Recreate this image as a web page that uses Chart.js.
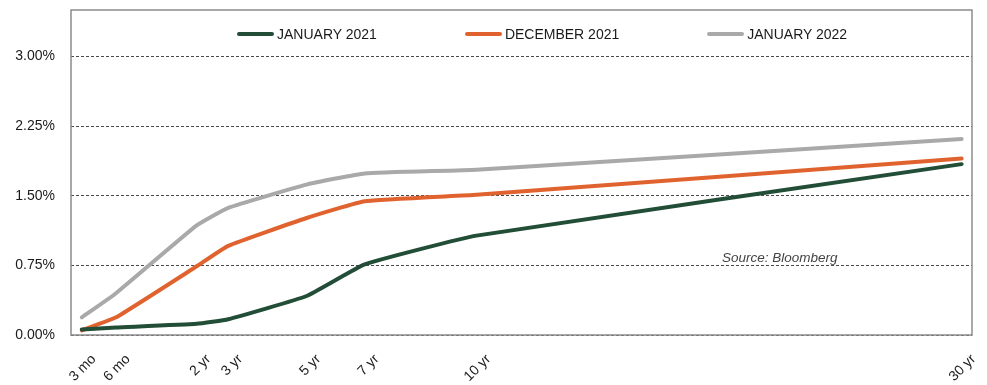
<!DOCTYPE html>
<html>
<head>
<meta charset="utf-8">
<script src="https://cdn.jsdelivr.net/npm/chart.js@4.4.0/dist/chart.umd.min.js"></script>
<style>
  html, body { margin: 0; padding: 0; background: #fff; }
  #wrap { position: relative; width: 987px; height: 385px; }
  #legend {
    position: absolute; top: 26px; left: 237px;
    display: flex; gap: 88px;
    font: 14px "Liberation Sans", Arial, sans-serif; color: #1a1a1a;
  }
  #legend .item { display: flex; align-items: center; gap: 3px; white-space: nowrap; }
  #legend .swatch { width: 37px; height: 4px; border-radius: 2px; }
</style>
</head>
<body>
<div id="wrap">
  <canvas id="curve" width="987" height="385"></canvas>
  <div id="legend"></div>
</div>
<script>
// maturities shown on the x axis
const tenorLabels = ['3 mo', '6 mo', '2 yr', '3 yr', '5 yr', '7 yr', '10 yr', '30 yr'];
// where each maturity sits along the (not-to-scale) maturity axis, 0-100
const tenorAxisPos = [1.2, 5.0, 13.95, 17.45, 26.15, 32.6, 45.0, 98.85];

// treasury yields, %
const jan2021 = [0.06, 0.08, 0.12, 0.17, 0.42, 0.76, 1.07, 1.84];
const dec2021 = [0.05, 0.19, 0.74, 0.96, 1.26, 1.44, 1.51, 1.90];
const jan2022 = [0.19, 0.45, 1.18, 1.37, 1.62, 1.74, 1.78, 2.11];

const seriesNames = ['JANUARY 2021', 'DECEMBER 2021', 'JANUARY 2022'];
const yTicks = [0, 0.75, 1.5, 2.25, 3.0];

const colors = ['#224d37', '#e0632f', '#a9a9a9'];
const FONT = '"Liberation Sans", Arial, sans-serif';

function toPoints(vals) {
  return vals.map((v, i) => ({ x: tenorAxisPos[i], y: v }));
}

// outer frame + source note
const framePlugin = {
  id: 'frame',
  afterDraw(chart) {
    const { ctx, chartArea: a, scales } = chart;
    ctx.save();
    ctx.strokeStyle = '#8c8c8c';
    ctx.lineWidth = 1.5;
    ctx.strokeRect(a.left, a.top, a.right - a.left, a.bottom - a.top);
    ctx.font = 'italic 13.5px ' + FONT;
    ctx.fillStyle = '#444';
    ctx.textBaseline = 'alphabetic';
    ctx.fillText('Source: Bloomberg', a.right - 250, scales.y.getPixelForValue(0.75) - 3);
    ctx.restore();
  }
};

const chart = new Chart(document.getElementById('curve'), {
  type: 'line',
  data: {
    datasets: [jan2021, dec2021, jan2022].map((vals, i) => ({
      label: seriesNames[i],
      data: toPoints(vals),
      borderColor: colors[i],
      backgroundColor: colors[i],
      borderWidth: 4,
      borderCapStyle: 'round',
      borderJoinStyle: 'round',
      pointRadius: 0,
      tension: 0.12
    }))
  },
  options: {
    responsive: false,
    animation: false,
    layout: { padding: { left: 15, right: 15, top: 10, bottom: 0 } },
    plugins: {
      legend: { display: false },
      tooltip: { enabled: false }
    },
    scales: {
      x: {
        type: 'linear',
        min: 0,
        max: 100,
        border: { display: false },
        grid: { display: false },
        afterBuildTicks: s => { s.ticks = tenorAxisPos.map(v => ({ value: v })); },
        afterFit: s => { s.height = 50; s.paddingLeft = 0; s.paddingRight = 0; },
        ticks: {
          autoSkip: false,
          minRotation: 45,
          maxRotation: 45,
          padding: 8,
          labelOffset: 12,
          color: '#1a1a1a',
          font: { family: FONT, size: 14 },
          callback: (v, i) => tenorLabels[i]
        }
      },
      y: {
        min: 0,
        max: 3.5,
        border: { display: false },
        afterBuildTicks: s => { s.ticks = yTicks.map(v => ({ value: v })); },
        afterFit: s => { s.width = 56; s.paddingTop = 0; s.paddingBottom = 0; },
        grid: {
          drawTicks: false,
          color: '#4a4a4a',
          lineWidth: 1
        },
        ticks: {
          padding: 16,
          color: '#1a1a1a',
          font: { family: FONT, size: 14 },
          callback: v => v.toFixed(2) + '%'
        }
      }
    }
  },
  plugins: [framePlugin]
});

// dashed horizontal grid
chart.options.scales.y.border.dash = [3, 2];
chart.update();

// legend built from the datasets
const legendEl = document.getElementById('legend');
chart.data.datasets.forEach(ds => {
  const item = document.createElement('div');
  item.className = 'item';
  const sw = document.createElement('span');
  sw.className = 'swatch';
  sw.style.background = ds.borderColor;
  const txt = document.createElement('span');
  txt.textContent = ds.label;
  item.appendChild(sw);
  item.appendChild(txt);
  legendEl.appendChild(item);
});
</script>
</body>
</html>
